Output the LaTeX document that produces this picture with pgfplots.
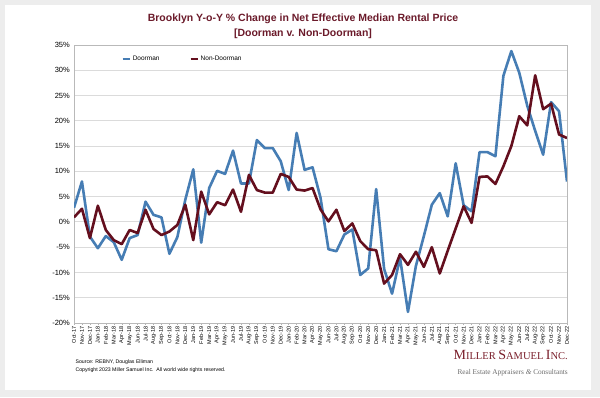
\documentclass[border=0pt]{standalone}
\usepackage{pgfplots}
\pgfplotsset{compat=1.18}
\usepackage{pgfplotstable}
\usepackage{fontspec}
\setmainfont{Liberation Sans}
\newfontfamily\seriffont{Liberation Serif}
\definecolor{door}{HTML}{467DB4}
\definecolor{nondoor}{HTML}{640F1E}
\definecolor{titlecol}{HTML}{6B1A2A}
\definecolor{logocol}{HTML}{7A1F2B}
\pgfplotstableread{
i door nondoor
0 2.8 0.9
1 8.0 2.6
2 -2.9 -3.2
3 -5.2 3.2
4 -2.8 -1.6
5 -4.0 -3.6
6 -7.5 -4.4
7 -3.2 -1.6
8 -2.6 -2.2
9 4.0 2.4
10 1.4 -1.4
11 0.9 -2.6
12 -6.3 -1.9
13 -3.0 -0.6
14 4.4 3.4
15 10.4 -3.6
16 -4.1 6.0
17 6.7 1.5
18 10.1 3.9
19 9.5 3.3
20 14.1 6.4
21 7.6 2.0
22 7.6 9.3
23 16.2 6.3
24 14.6 5.8
25 14.6 5.8
26 12.0 9.5
27 6.3 8.9
28 17.6 6.4
29 10.3 6.2
30 10.8 6.7
31 4.8 2.5
32 -5.4 0.1
33 -5.8 2.4
34 -2.5 -1.8
35 -1.5 -0.3
36 -10.5 -3.8
37 -9.2 -5.4
38 6.5 -5.6
39 -9.3 -12.2
40 -14.2 -10.5
41 -7.1 -6.4
42 -17.8 -8.5
43 -8.7 -5.9
44 -2.8 -8.9
45 3.4 -5.0
46 5.7 -10.2
47 1.1 -5.7
48 11.6 -1.3
49 3.3 3.1
50 2.1 -0.2
51 13.8 8.9
52 13.8 9.0
53 13.0 7.5
54 28.9 11.0
55 33.8 15.0
56 29.5 20.9
57 23.0 19.1
58 18.0 29.0
59 13.3 22.3
60 23.7 23.4
61 21.9 17.3
62 8.0 16.6
}\datatable
\begin{document}
\begin{tikzpicture}[x=1pt,y=1pt]
\fill[gray!14] (0,0) rectangle (600,397);
\useasboundingbox (0,0) rectangle (600,397);
\fill[white] (5,7) rectangle (591,392);
\node[font=\fontsize{10.5}{12}\selectfont\bfseries, text=titlecol] at (303,378) {Brooklyn Y-o-Y \% Change in Net Effective Median Rental Price};
\node[font=\fontsize{10.5}{12}\selectfont\bfseries, text=titlecol] at (303,363) {[Doorman v. Non-Doorman]};
\begin{axis}[
  at={(74pt,74pt)}, anchor=south west,
  scale only axis, width=493pt, height=278pt,
  xmin=0, xmax=62, ymin=-20, ymax=35,
  xtick={0,...,62},
  xticklabels={Oct-17,Nov-17,Dec-17,Jan-18,Feb-18,Mar-18,Apr-18,May-18,Jun-18,Jul-18,Aug-18,Sep-18,Oct-18,Nov-18,Dec-18,Jan-19,Feb-19,Mar-19,Apr-19,May-19,Jun-19,Jul-19,Aug-19,Sep-19,Oct-19,Nov-19,Dec-19,Jan-20,Feb-20,Mar-20,Apr-20,May-20,Jun-20,Jul-20,Aug-20,Sep-20,Oct-20,Nov-20,Dec-20,Jan-21,Feb-21,Mar-21,Apr-21,May-21,Jun-21,Jul-21,Aug-21,Sep-21,Oct-21,Nov-21,Dec-21,Jan-22,Feb-22,Mar-22,Apr-22,May-22,Jun-22,Jul-22,Aug-22,Sep-22,Oct-22,Nov-22,Dec-22},
  ytick={-20,-15,...,35},
  yticklabels={-20\%,-15\%,-10\%,-5\%,0\%,5\%,10\%,15\%,20\%,25\%,30\%,35\%},
  xticklabel style={font=\fontsize{5.5}{6}\selectfont, rotate=90, anchor=east, inner sep=1.5pt},
  yticklabel style={font=\fontsize{7.5}{8}\selectfont, inner sep=2pt},
  x tick style={draw=gray!60, line width=0.4pt}, major tick length=2pt,
  xtick pos=bottom, tick align=outside,
  y tick style={draw=none},
  ymajorgrids, grid style={draw=gray!28, line width=0.9pt},
  axis line style={draw=gray!55, line width=0.7pt},
  legend style={at={(0.09,0.95)}, anchor=west, draw=none, fill=none,
    font=\fontsize{6.5}{7}\selectfont, legend columns=2,
    /tikz/every even column/.append style={column sep=28pt}},
  legend image code/.code={\draw[#1, line width=2.2pt] (0pt,0pt) -- (7pt,0pt);},
]
\addplot[door, line width=2.6pt, line join=round, no marks] table[x=i, y=door] {\datatable};
\addlegendentry{Doorman}
\addplot[nondoor, line width=2.6pt, line join=round, no marks] table[x=i, y=nondoor] {\datatable};
\addlegendentry{Non-Doorman}
\end{axis}
\node[anchor=west, font=\fontsize{5.2}{6}\selectfont] at (72,35) {Source: REBNY, Douglas Elliman};
\node[anchor=west, font=\fontsize{5.2}{6}\selectfont] at (72,27) {Copyright 2023 Miller Samuel Inc.\ \ All world wide rights reserved.};
\node[anchor=east, text=logocol, font=\seriffont, inner sep=0pt] at (568,42) {{\fontsize{14}{14}\selectfont M}{\fontsize{10.5}{14}\selectfont ILLER} {\fontsize{14}{14}\selectfont S}{\fontsize{10.5}{14}\selectfont AMUEL} {\fontsize{14}{14}\selectfont I}{\fontsize{10.5}{14}\selectfont NC.}};
\node[anchor=east, text=gray!85!black, font=\seriffont\fontsize{7.3}{8}\selectfont, inner sep=0pt] at (568,24) {Real Estate Appraisers \textit{\&} Consultants};
\end{tikzpicture}
\end{document}
